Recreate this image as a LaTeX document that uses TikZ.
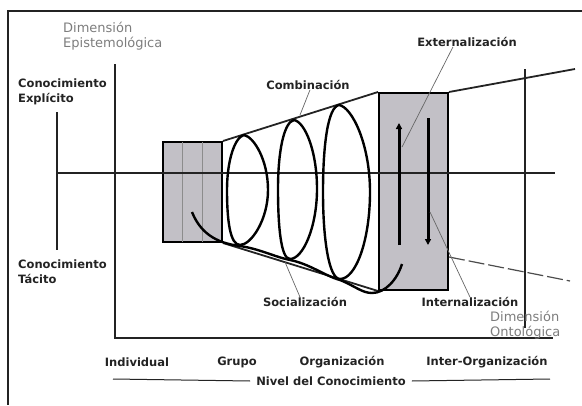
\documentclass[tikz,border=0pt]{standalone}
\usepackage{fontspec}
\setmainfont{DejaVu Sans}
\usetikzlibrary{arrows.meta}
\definecolor{nkfill}{RGB}{194,192,198}
\definecolor{nkdark}{RGB}{35,35,35}
\definecolor{nkgraytext}{RGB}{125,125,125}
\tikzset{
  lbl/.style={font=\fontsize{11.5}{15}\selectfont\bfseries, text=nkdark, inner sep=0pt, align=left},
  dimlbl/.style={font=\fontsize{13}{15}\selectfont, text=nkgraytext, inner sep=0pt, align=left},
  phase/.style={rectangle, draw=black, line width=2pt, fill=nkfill, inner sep=0pt},
  axis/.style={nkdark, line width=1.8pt},
  guide/.style={nkdark, line width=1.3pt},
  lead/.style={black!60, line width=0.7pt},
  loop/.style={black, line width=2.4pt},
  karr/.style={-{Triangle[length=6pt,width=6pt]}, black, line width=3pt},
}
\begin{document}
\begin{tikzpicture}[x=1pt,y=-1pt]
  \useasboundingbox (0,0) rectangle (582,405);
  % frame and axes
  \draw[guide] (582,11) -- (8,11) -- (8,405);
  \draw[guide] (57,112) -- (57,250);
  \draw[axis] (115,64) -- (115,338) -- (553,338);
  \draw[guide] (525,69) -- (525,328);
  % boxes
  \node[phase, minimum width=59pt, minimum height=100pt] (ind box) at (192.5,192) {};
  \draw[black!45, line width=0.8pt] (182,142) -- (182,242) (202,142) -- (202,242);
  \node[phase, minimum width=69pt, minimum height=197pt] (org box) at (413.5,191.5) {};
  % envelope
  \draw[axis] (ind box.north east) -- (org box.north west);
  \draw[axis] (org box.north east) -- (575,69);
  \draw[axis] (ind box.south east) -- (org box.south west);
  \coordinate (dash start) at (org box.east |- 0,257);
  \coordinate (dash end) at (570,281);
  \draw[black!70, line width=1.2pt, dash pattern=on 16pt off 4pt] (dash start) -- (dash end);
  \draw[axis, line width=2pt] (57,173) -- (555,173);
  % spiral
  \draw[loop] (244,135) .. controls (235,137) and (227,160) .. (227,190)
    .. controls (227,220) and (230,245) .. (240,245)
    .. controls (251,245) and (268,220) .. (268,190)
    .. controls (268,160) and (254,137) .. cycle;
  \draw[loop] (294,120) .. controls (284,122) and (278,151) .. (278,189)
    .. controls (278,227) and (281,259) .. (290,259)
    .. controls (303,259) and (317,227) .. (317,189)
    .. controls (317,151) and (305,122) .. cycle;
  \draw[loop] (339,105) .. controls (328,107) and (323,144) .. (323,192)
    .. controls (323,240) and (329,279) .. (340,279)
    .. controls (356,279) and (370,240) .. (370,192)
    .. controls (370,144) and (352,107) .. cycle;
  \draw[loop] (192,212) .. controls (200,232) and (215,243) .. (240,246)
    .. controls (260,249) and (275,257) .. (290,260)
    .. controls (310,264) and (325,276) .. (340,280)
    .. controls (355,286) and (362,293) .. (372,293)
    .. controls (385,293) and (397,280) .. (402,264);
  % conversion arrows
  \draw[karr] (399,245) -- (399,123);
  \draw[karr] (428,118) -- (428,245);
  % labels
  \node[dimlbl, anchor=west] (epi) at (63,36) {Dimensión\\Epistemológica};
  \node[lbl, anchor=west] (expl) at (18,92) {Conocimiento\\Explícito};
  \node[lbl, anchor=west] (tac) at (18,272) {Conocimiento\\Tácito};
  \node[lbl] (comb) at (308,85) {Combinación};
  \node[lbl] (ext) at (467,42) {Externalización};
  \node[lbl] (soc) at (305,302) {Socialización};
  \node[lbl] (int) at (470,302) {Internalización};
  \node[dimlbl, anchor=west] (onto) at (490,325) {Dimensión\\Ontológica};
  \node[lbl] (ind) at (137,362) {Individual};
  \node[lbl] (grp) at (237,362) {Grupo};
  \node[lbl] (org) at (342,362) {Organización};
  \node[lbl] (inter) at (487,362) {Inter-Organización};
  \node[lbl] (lvl) at (331,381) {Nivel del Conocimiento};
  \draw[nkdark, line width=1pt] ([xshift=-6pt]lvl.west) -- (113,379);
  \draw[nkdark, line width=1pt] ([xshift=6pt]lvl.east) -- (550,379);
  % leaders
  \coordinate (comb tip) at (300,115);
  \coordinate (ext tip) at (402,147);
  \coordinate (soc tip) at (285,262);
  \coordinate (int tip) at (430,212);
  \draw[lead] ([xshift=2pt]comb.south) -- (comb tip);
  \draw[lead] ([xshift=-14pt]ext.south) -- (ext tip);
  \draw[lead] ([xshift=-5pt]soc.north) -- (soc tip);
  \draw[lead] (int.north) -- (int tip);
\end{tikzpicture}
\end{document}
